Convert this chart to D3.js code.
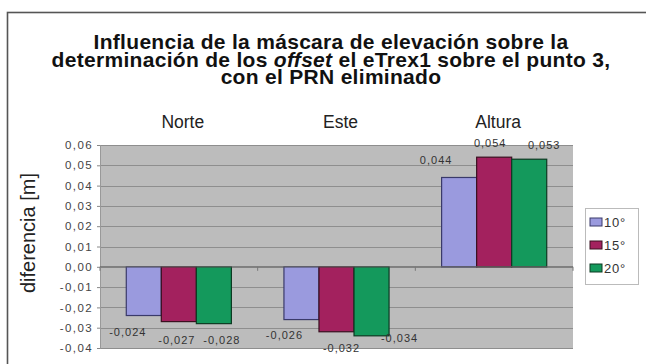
<!DOCTYPE html>
<html>
<head>
<meta charset="utf-8">
<script src="https://cdn.jsdelivr.net/npm/d3@7"></script>
<style>
  html, body { margin: 0; padding: 0; background: #fff; }
  svg { display: block; }
  text { font-family: "Liberation Sans", Arial, sans-serif; }
</style>
</head>
<body>
<svg id="chart" width="646" height="364"></svg>
<script>
// Components of the offset (m) for each elevation mask
const categories = ["Norte", "Este", "Altura"];
const seriesNames = ["10°", "15°", "20°"];
const values10 = [-0.024, -0.026, 0.044];
const values15 = [-0.027, -0.032, 0.054];
const values20 = [-0.028, -0.034, 0.053];
const valueLabels10 = ["-0,024", "-0,026", "0,044"];
const valueLabels15 = ["-0,027", "-0,032", "0,054"];
const valueLabels20 = ["-0,028", "-0,034", "0,053"];
const yTicks = [0.06, 0.05, 0.04, 0.03, 0.02, 0.01, 0.00, -0.01, -0.02, -0.03, -0.04];
const yTickLabels = ["0,06", "0,05", "0,04", "0,03", "0,02", "0,01", "0,00", "-0,01", "-0,02", "-0,03", "-0,04"];

const seriesValues = [values10, values15, values20];
const seriesLabels = [valueLabels10, valueLabels15, valueLabels20];
const colors = ["#9a9ade", "#a3215e", "#14995c"];
const strokes = ["#3a3a6a", "#3a1020", "#0c3a22"];

const svg = d3.select("#chart");

// outer frame
svg.append("rect")
  .attr("x", 7.5).attr("y", 12.5)
  .attr("width", 646).attr("height", 364)
  .attr("fill", "none").attr("stroke", "#555").attr("stroke-width", 1.6);

// title
const titleLines = [
  [{t: "Influencia de la máscara de elevación sobre la"}],
  [{t: "determinación de los "}, {t: "offset", i: true}, {t: " el eTrex1 sobre el punto 3,"}],
  [{t: "con el PRN eliminado"}]
];
titleLines.forEach((parts, k) => {
  const tx = svg.append("text")
    .attr("x", 331).attr("y", 49 + k * 17.5)
    .attr("text-anchor", "middle")
    .attr("font-size", 21).attr("letter-spacing", 0.3)
    .attr("font-weight", "bold").attr("fill", "#111");
  parts.forEach(p => tx.append("tspan").text(p.t).attr("font-style", p.i ? "italic" : "normal"));
});

const plot = {left: 100, right: 573, top: 145, bottom: 348};

const x0 = d3.scaleBand().domain(categories).range([plot.left, plot.right]).paddingInner(0).paddingOuter(0);
const x1 = d3.scaleBand().domain(seriesNames).range([0, x0.bandwidth()]).paddingInner(0).paddingOuter(0.75);
const y = d3.scaleLinear().domain([-0.04, 0.06]).range([plot.bottom, plot.top]);

// plot background
svg.append("rect")
  .attr("x", plot.left).attr("y", plot.top)
  .attr("width", plot.right - plot.left).attr("height", plot.bottom - plot.top)
  .attr("fill", "#bcbcbc");

// gridlines
svg.append("g").selectAll("line").data(yTicks).join("line")
  .attr("x1", plot.left).attr("x2", plot.right)
  .attr("y1", d => Math.round(y(d)) + 0.5).attr("y2", d => Math.round(y(d)) + 0.5)
  .attr("stroke", "#8e8e8e").attr("stroke-width", 1);

// y axis
const yAxis = d3.axisLeft(y).tickValues(yTicks).tickSize(3)
  .tickFormat((d, i) => yTickLabels[i]);
const gy = svg.append("g").attr("transform", `translate(${plot.left},0)`).call(yAxis);
gy.select(".domain").attr("stroke", "#999");
gy.selectAll(".tick line").attr("stroke", "#888");
gy.selectAll(".tick text")
  .attr("font-size", 11.5).attr("fill", "#444").attr("x", -7)
  .attr("letter-spacing", 1.4)
  .attr("font-family", "'Liberation Sans', Arial, sans-serif");

// y axis title
svg.append("text")
  .attr("transform", "translate(35,233) rotate(-90)")
  .attr("text-anchor", "middle")
  .attr("font-size", 20).attr("fill", "#222")
  .text("diferencia [m]");

// category labels above the plot
svg.append("g").selectAll("text").data(categories).join("text")
  .attr("x", d => x0(d) + x0.bandwidth() / 2 + 4)
  .attr("y", 128)
  .attr("text-anchor", "middle")
  .attr("font-size", 17.5).attr("fill", "#222")
  .text(d => d);

// bars
const groups = svg.append("g").selectAll("g").data(categories).join("g")
  .attr("transform", d => `translate(${x0(d)},0)`);

groups.selectAll("rect")
  .data((c, ci) => seriesNames.map((s, si) => ({s, si, v: seriesValues[si][ci]})))
  .join("rect")
  .attr("x", d => x1(d.s))
  .attr("width", x1.bandwidth())
  .attr("y", d => y(Math.max(0, d.v)))
  .attr("height", d => Math.abs(y(d.v) - y(0)))
  .attr("fill", d => colors[d.si])
  .attr("stroke", d => strokes[d.si]).attr("stroke-width", 1.2);

// x axis along zero with category separators
svg.append("line")
  .attr("x1", plot.left).attr("x2", plot.right)
  .attr("y1", y(0)).attr("y2", y(0))
  .attr("stroke", "#666").attr("stroke-width", 1);
svg.append("g").selectAll("line").data(categories.concat(["end"])).join("line")
  .attr("x1", (d, i) => plot.left + i * x0.bandwidth())
  .attr("x2", (d, i) => plot.left + i * x0.bandwidth())
  .attr("y1", y(0)).attr("y2", y(0) + 4)
  .attr("stroke", "#777");

// value labels, nudged apart so neighbours stay readable
const nudge = [
  [[-16, 16], [-2, 18], [8, 16]],
  [[-17, 15], [5, 16], [28, 2]],
  [[-23, -17], [-4, -14], [15, -14]]
];
groups.selectAll("text.val")
  .data((c, ci) => seriesNames.map((s, si) => ({s, si, ci, v: seriesValues[si][ci], lab: seriesLabels[si][ci]})))
  .join("text")
  .attr("class", "val")
  .attr("x", d => x1(d.s) + x1.bandwidth() / 2 + nudge[d.ci][d.si][0])
  .attr("y", d => y(d.v) + nudge[d.ci][d.si][1] + 4)
  .attr("text-anchor", "middle")
  .attr("font-size", 11).attr("letter-spacing", 1).attr("fill", "#333")
  .text(d => d.lab);

// legend
const legend = svg.append("g");
legend.append("rect")
  .attr("x", 585.5).attr("y", 208.5).attr("width", 53).attr("height", 76)
  .attr("fill", "#fff").attr("stroke", "#bbb");
seriesNames.forEach((s, i) => {
  const ly = 222 + i * 23;
  legend.append("rect")
    .attr("x", 590).attr("y", ly - 4).attr("width", 12).attr("height", 8)
    .attr("fill", colors[i]).attr("stroke", strokes[i]);
  legend.append("text")
    .attr("x", 604).attr("y", ly + 5)
    .attr("font-size", 13).attr("letter-spacing", 0.8).attr("fill", "#333")
    .text(s);
});
</script>
</body>
</html>
